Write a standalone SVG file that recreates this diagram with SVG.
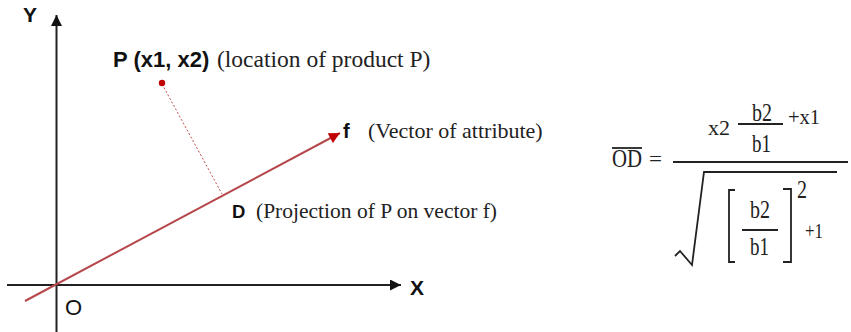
<svg xmlns="http://www.w3.org/2000/svg" width="851" height="332" viewBox="0 0 851 332">
<style>
.bold{font-family:"Liberation Sans",Arial,sans-serif;font-weight:bold;fill:#111}
.sans{font-family:"Liberation Sans",Arial,sans-serif;fill:#111}
.serif{font-family:"Liberation Serif","Times New Roman",serif;fill:#222}
.axis{stroke:#222;stroke-width:2;fill:none}
.vec{stroke:#b5474a;stroke-width:2;fill:none}
.proj{stroke:#c0504d;stroke-width:1;stroke-dasharray:2 2;fill:none}
.math{stroke:#222;fill:none;stroke-width:1.8}
</style>
<defs>
<marker id="ah" viewBox="0 0 10 10" refX="10" refY="5" markerUnits="userSpaceOnUse" markerWidth="12" markerHeight="11" orient="auto">
<path d="M0,0 L10,5 L0,10 z" fill="#111"/>
</marker>
<marker id="ahr" viewBox="0 0 10 10" refX="10" refY="5" markerUnits="userSpaceOnUse" markerWidth="13" markerHeight="11" orient="auto">
<path d="M0,0 L10,5 L0,10 z" fill="#c00000"/>
</marker>
</defs>
<g id="connectors">
<line class="axis" x1="56.5" y1="332" x2="56.5" y2="15" marker-end="url(#ah)"/>
<line class="axis" x1="7" y1="285" x2="401" y2="285" marker-end="url(#ah)"/>
<line class="vec" x1="25" y1="301" x2="340" y2="133" marker-end="url(#ahr)"/>
<line class="proj" x1="162" y1="84" x2="222" y2="194"/>
</g>
<g id="axis-y"><text class="bold" x="23" y="22" font-size="21">Y</text></g>
<g id="axis-x"><text class="bold" x="410" y="295" font-size="21">X</text></g>
<g id="origin"><text class="sans" x="65" y="315" font-size="22">O</text></g>
<g id="point-p">
<circle cx="162" cy="83" r="3.2" fill="#c00000"/>
<text x="113" y="67" font-size="22"><tspan class="bold">P (x1, x2)</tspan><tspan class="serif" x="217" font-size="23.5">(location of product P)</tspan></text>
</g>
<g id="vector-f">
<text x="343" y="138" font-size="20"><tspan class="bold">f</tspan><tspan class="serif" x="368" font-size="22">(Vector of attribute)</tspan></text>
</g>
<g id="point-d">
<text x="232" y="218" font-size="18.5"><tspan class="bold">D</tspan><tspan class="serif" x="256" font-size="21.5">(Projection of P on vector f)</tspan></text>
</g>
<g id="formula" class="serif">
<text class="serif" x="612" y="167" font-size="25" textLength="30" lengthAdjust="spacingAndGlyphs">OD</text>
<line class="math" x1="612" y1="148" x2="642" y2="148" stroke-width="1.5"/>
<text class="serif" x="649" y="166" font-size="22" textLength="13" lengthAdjust="spacingAndGlyphs">=</text>
<line class="math" x1="673" y1="162" x2="848" y2="162"/>
<text class="serif" x="708" y="135" font-size="21" textLength="22" lengthAdjust="spacingAndGlyphs">x2</text>
<line class="math" x1="738" y1="124" x2="783" y2="124" stroke-width="1.5"/>
<text class="serif" x="752" y="121" font-size="25" textLength="20" lengthAdjust="spacingAndGlyphs">b2</text>
<text class="serif" x="752" y="152" font-size="25" textLength="19" lengthAdjust="spacingAndGlyphs">b1</text>
<text class="serif" x="788" y="124" font-size="21" textLength="32" lengthAdjust="spacingAndGlyphs">+x1</text>
<path class="math" d="M675,256 L680,251 L692,265 L704,172 L837,172"/>
<path class="math" d="M735,190 L729,190 L729,262 L735,262"/>
<path class="math" d="M783,189 L791,189 L791,262 L783,262"/>
<text class="serif" x="750" y="218" font-size="25" textLength="20" lengthAdjust="spacingAndGlyphs">b2</text>
<line class="math" x1="742" y1="230" x2="778" y2="230" stroke-width="1.5"/>
<text class="serif" x="750" y="255" font-size="25" textLength="19" lengthAdjust="spacingAndGlyphs">b1</text>
<text class="serif" x="797" y="198" font-size="25" textLength="10" lengthAdjust="spacingAndGlyphs">2</text>
<text class="serif" x="805" y="238" font-size="22" textLength="18" lengthAdjust="spacingAndGlyphs">+1</text>
</g>
</svg>
